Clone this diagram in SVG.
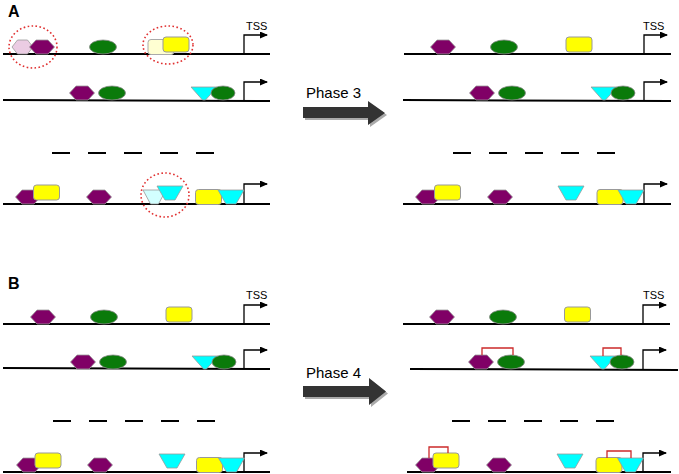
<svg xmlns="http://www.w3.org/2000/svg" xmlns:xlink="http://www.w3.org/1999/xlink" width="679" height="474" viewBox="0 0 679 474">
<style>
.dna{stroke:#000;stroke-width:2;fill:none}
.tss{stroke:#000;stroke-width:1.3;fill:none}
.dash{stroke:#000;stroke-width:2}
.circ{fill:none;stroke:#e03030;stroke-width:1.6;stroke-dasharray:1.6 2.4}
.br{fill:none;stroke:#cc2a2a;stroke-width:1.3}
.lbl{font-family:"Liberation Sans",Arial,sans-serif;fill:#000}
.big{font-size:16px;font-weight:bold}
.t{font-size:11px}
.ph{font-size:15px}
.hex{fill:#800066;stroke:#999;stroke-width:0.8}
.hexl{fill:#ebcce3;stroke:#999;stroke-width:0.8}
.gr{fill:#0a7a0a;stroke:#8a8a8a;stroke-width:0.8}
.ye{fill:#ffff00;stroke:#999;stroke-width:1}
.yel{fill:#ffffd2;stroke:#aaa;stroke-width:1}
.cy{fill:#00ffff;stroke:#999;stroke-width:0.8}
.cyl{fill:#d2ffff;stroke:#999;stroke-width:0.8}
.arr{fill:#333}
.sh{fill:#aaa}
</style>
<defs>
<marker id="ah" markerUnits="userSpaceOnUse" markerWidth="8" markerHeight="8" refX="7" refY="3.5" orient="auto"><path d="M0,0 L8,3.5 L0,7 z" fill="#000"/></marker>
<polygon id="hx" points="-12.5,0 -6,-7 6,-7 12.5,0 6,7 -6,7"/>
<ellipse id="el" rx="13.5" ry="7"/>
<ellipse id="els" rx="12" ry="7"/>
<rect id="rc" x="-13" y="-7.5" width="26" height="15" rx="3"/>
<polygon id="tri" points="-13,-6.5 13,-6.5 1.5,6.5 -1.5,6.5"/>
<polygon id="trp" points="-13,-7 13,-7 5,7 -5,7"/>
</defs>

<text class="lbl big" x="8" y="17">A</text>
<text class="lbl big" x="8" y="289">B</text>

<!-- DNA lines -->
<g id="dna-lines">
<line class="dna" x1="3" y1="54" x2="270" y2="54"/>
<line class="dna" x1="3" y1="100" x2="270" y2="101"/>
<line class="dna" x1="3" y1="204" x2="270" y2="204"/>
<line class="dna" x1="404" y1="54" x2="671" y2="54"/>
<line class="dna" x1="403" y1="100" x2="671" y2="101"/>
<line class="dna" x1="403" y1="204" x2="671" y2="204"/>
<line class="dna" x1="3" y1="324" x2="270" y2="324"/>
<line class="dna" x1="3" y1="368" x2="270" y2="369"/>
<line class="dna" x1="3" y1="472" x2="270" y2="472"/>
<line class="dna" x1="403" y1="324" x2="670" y2="324"/>
<line class="dna" x1="410" y1="369" x2="678" y2="370"/>
<line class="dna" x1="407" y1="472" x2="671" y2="472"/>
</g>

<g id="dashes">
<path class="dash" d="M52,153h18M88,153h18M124,153h18M160,153h18M196,153h18"/>
<path class="dash" d="M453,153h18M489,153h18M525,153h18M561,153h18M597,153h18"/>
<path class="dash" d="M53,421h18M89,421h18M125,421h18M161,421h18M197,421h18"/>
<path class="dash" d="M452,421h18M488,421h18M524,421h18M560,421h18M596,421h18"/>
</g>

<g id="tss-arrows">
<path class="tss" d="M244,54V35H267" marker-end="url(#ah)"/>
<path class="tss" d="M244,100V82H267" marker-end="url(#ah)"/>
<path class="tss" d="M244,204V184H267" marker-end="url(#ah)"/>
<path class="tss" d="M644,54V35H667" marker-end="url(#ah)"/>
<path class="tss" d="M644,100V82H667" marker-end="url(#ah)"/>
<path class="tss" d="M644,204V184H667" marker-end="url(#ah)"/>
<path class="tss" d="M244,324V305H267" marker-end="url(#ah)"/>
<path class="tss" d="M244,369V350H267" marker-end="url(#ah)"/>
<path class="tss" d="M244,472V453H267" marker-end="url(#ah)"/>
<path class="tss" d="M643,324V305H666" marker-end="url(#ah)"/>
<path class="tss" d="M643,370V350H666" marker-end="url(#ah)"/>
<path class="tss" d="M643,472V453H666" marker-end="url(#ah)"/>
<text class="lbl t" x="246" y="30">TSS</text>
<text class="lbl t" x="643" y="30">TSS</text>
<text class="lbl t" x="246" y="299">TSS</text>
<text class="lbl t" x="643" y="299">TSS</text>
</g>

<!-- Panel A left -->
<g id="A-left-row1">
<polygon class="hexl" points="12,47 17.5,40 27.5,40 33,47 27.5,54 17.5,54"/>
<use href="#hx" class="hex" x="42" y="47"/>
<use href="#el" class="gr" x="103" y="47"/>
<use href="#rc" class="yel" x="161" y="47"/>
<use href="#rc" class="ye" x="176" y="44.5"/>
<ellipse class="circ" cx="33" cy="47" rx="24" ry="21"/>
<ellipse class="circ" cx="168" cy="45" rx="25" ry="19"/>
</g>
<g id="A-left-row2">
<use href="#hx" class="hex" x="82" y="93"/>
<use href="#el" class="gr" x="112" y="93"/>
<use href="#tri" class="cy" x="204" y="93.5"/>
<use href="#els" class="gr" x="223" y="93"/>
</g>
<g id="A-left-row3">
<use href="#hx" class="hex" x="28" y="197"/>
<use href="#rc" class="ye" x="46.5" y="192.5"/>
<use href="#hx" class="hex" x="99" y="197"/>
<polygon class="cyl" points="143,190 166,190 158.5,204 150.5,204"/>
<use href="#trp" class="cy" x="170" y="193"/>
<use href="#rc" class="ye" x="208.5" y="197"/>
<use href="#trp" class="cy" x="231" y="197"/>
<ellipse class="circ" cx="165" cy="195" rx="24" ry="22"/>
</g>

<!-- Phase 3 arrow -->
<g id="phase3">
<polygon class="sh" points="305,109 370,109 370,103 387,115 370,127 370,120 305,120"/>
<polygon class="arr" points="303,107 368,107 368,101 385,113 368,125 368,118 303,118"/>
<text class="lbl ph" x="306" y="98">Phase 3</text>
</g>

<!-- Panel A right -->
<g id="A-right-row1">
<use href="#hx" class="hex" x="443" y="47"/>
<use href="#el" class="gr" x="504" y="47"/>
<use href="#rc" class="ye" x="579" y="44.5"/>
</g>
<g id="A-right-row2">
<use href="#hx" class="hex" x="482" y="93"/>
<use href="#el" class="gr" x="512" y="93"/>
<use href="#tri" class="cy" x="604" y="93.5"/>
<use href="#els" class="gr" x="623" y="93"/>
</g>
<g id="A-right-row3">
<use href="#hx" class="hex" x="428" y="197"/>
<use href="#rc" class="ye" x="447.5" y="192.5"/>
<use href="#hx" class="hex" x="500" y="197"/>
<use href="#trp" class="cy" x="571" y="193"/>
<use href="#rc" class="ye" x="610" y="197"/>
<use href="#trp" class="cy" x="631" y="197"/>
</g>

<!-- Panel B left -->
<g id="B-left-row1">
<use href="#hx" class="hex" x="43" y="317"/>
<use href="#el" class="gr" x="104" y="317"/>
<use href="#rc" class="ye" x="179" y="314.5"/>
</g>
<g id="B-left-row2">
<use href="#hx" class="hex" x="83" y="362"/>
<use href="#el" class="gr" x="113" y="362"/>
<use href="#tri" class="cy" x="205" y="362.5"/>
<use href="#els" class="gr" x="224" y="362"/>
</g>
<g id="B-left-row3">
<use href="#hx" class="hex" x="29" y="465"/>
<use href="#rc" class="ye" x="48" y="460.5"/>
<use href="#hx" class="hex" x="100" y="465"/>
<use href="#trp" class="cy" x="172" y="461"/>
<use href="#rc" class="ye" x="209.5" y="465"/>
<use href="#trp" class="cy" x="231.5" y="465"/>
</g>

<!-- Phase 4 arrow -->
<g id="phase4">
<polygon class="sh" points="305,388 371,388 371,380 388,393.5 371,407 371,399 305,399"/>
<polygon class="arr" points="303,386 369,386 369,378 386,391.5 369,405 369,397 303,397"/>
<text class="lbl ph" x="306" y="378">Phase 4</text>
</g>

<!-- Panel B right -->
<g id="B-right-row1">
<use href="#hx" class="hex" x="442" y="317"/>
<use href="#el" class="gr" x="503" y="317"/>
<use href="#rc" class="ye" x="577.5" y="314.5"/>
</g>
<g id="B-right-row2">
<use href="#hx" class="hex" x="481" y="362"/>
<use href="#el" class="gr" x="511" y="362"/>
<use href="#tri" class="cy" x="603" y="362.5"/>
<use href="#els" class="gr" x="622" y="362"/>
</g>
<g id="B-right-row3">
<use href="#hx" class="hex" x="428" y="465"/>
<use href="#rc" class="ye" x="446" y="460.5"/>
<use href="#hx" class="hex" x="499" y="465"/>
<use href="#trp" class="cy" x="570" y="461"/>
<use href="#rc" class="ye" x="609" y="465"/>
<use href="#trp" class="cy" x="630.5" y="465"/>
</g>

<g id="connectors">
<path class="br" d="M482,355V348H513V355"/>
<path class="br" d="M603,356V348H621V355"/>
<path class="br" d="M429,458V447H448V453"/>
<path class="br" d="M607,458V451H631V458"/>
</g>
</svg>
